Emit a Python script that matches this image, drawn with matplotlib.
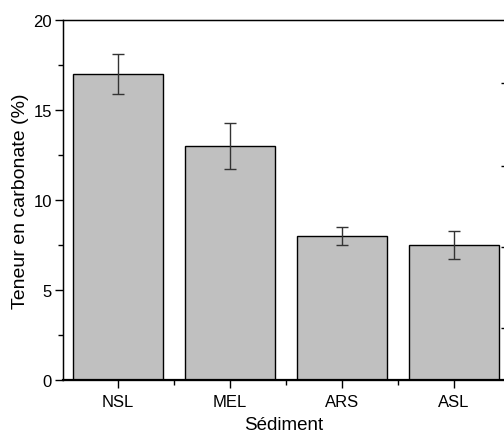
import numpy as np
import matplotlib.pyplot as plt
from matplotlib.ticker import MultipleLocator

plt.rcParams['font.family'] = ['Liberation Sans', 'DejaVu Sans']

sediments = ['NSL', 'MEL', 'ARS', 'ASL']
carbonate = [17.0, 13.0, 8.0, 7.5]
errors = [1.1, 1.3, 0.5, 0.8]
right_ticks = [2.9, 7.4, 11.9, 16.5]

fig = plt.figure(figsize=(5.04, 4.35), dpi=100)
ax = fig.add_axes([63/504, 1 - 381/435, 442/504, 360/435])

x = np.arange(len(sediments))
ax.bar(x, carbonate, width=0.8, color='#c0c0c0', edgecolor='black', linewidth=1.0)
ax.errorbar(x, carbonate, yerr=errors, fmt='none', ecolor='#333333',
            elinewidth=1.0, capsize=4, capthick=1.0)

ax.set_xlim(-0.49, 3.455)
ax.set_ylim(0, 20)
ax.set_xticks(x)
ax.set_xticklabels(sediments)
ax.xaxis.set_minor_locator(MultipleLocator(1, offset=0.5))
ax.yaxis.set_major_locator(MultipleLocator(5))
ax.yaxis.set_minor_locator(MultipleLocator(2.5))
ax.tick_params(which='major', direction='out', length=6, width=1, labelsize=12)
ax.tick_params(axis='y', which='major', pad=2)
ax.tick_params(axis='x', which='major', pad=4)
ax.tick_params(which='minor', direction='out', length=3.5, width=1)

for side in ['left', 'top', 'right']:
    ax.spines[side].set_linewidth(1.0)
ax.spines['bottom'].set_linewidth(1.6)

ax.set_ylabel('Teneur en carbonate (%)', fontsize=14, labelpad=3)
ax.set_xlabel('Sédiment', fontsize=13.5, labelpad=5)

ax2 = ax.twinx()
ax2.set_ylim(0, 20)
ax2.set_yticks(right_ticks)
ax2.tick_params(axis='y', direction='in', length=3, width=1, labelright=False)
ax2.spines['right'].set_linewidth(1.0)

fig.savefig('out.png', dpi=100)
